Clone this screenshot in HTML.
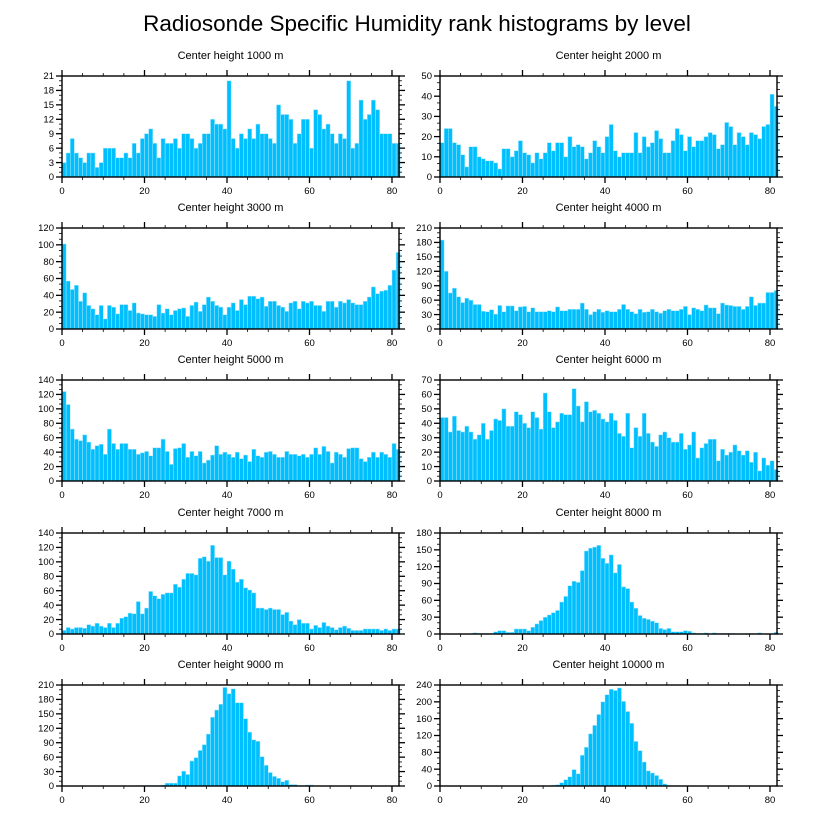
<!DOCTYPE html>
<html><head><meta charset="utf-8">
<style>
html,body{margin:0;padding:0;background:#fff;}
svg{display:block;font-family:"Liberation Sans",Arial,sans-serif;}
</style></head>
<body>
<svg id="chart" width="816" height="824" viewBox="0 0 816 824" xmlns="http://www.w3.org/2000/svg">
<text x="417" y="31" font-size="22.5" text-anchor="middle" fill="#000">Radiosonde Specific Humidity rank histograms by level</text>
</svg>
<script>
const panelTitles = ["Center height 1000 m","Center height 2000 m","Center height 3000 m","Center height 4000 m","Center height 5000 m","Center height 6000 m","Center height 7000 m","Center height 8000 m","Center height 9000 m","Center height 10000 m"];
const yMaxes = [21,50,120,210,140,70,140,180,210,240];
const ySteps = [3,10,20,30,20,10,20,30,30,40];
const xTickLabels = [0,20,40,60,80];
const h1000 = [3,5,8,5,4,3,5,5,2,3,6,6,6,4,4,5,4,7,5,8,9,10,7,4,8,7,7,8,6,9,9,8,6,7,9,9,12,11,11,10,20,8,6,9,8,10,8,11,9,9,8,7,15,13,13,12,7,9,12,12,6,14,13,10,11,9,7,9,8,20,6,7,16,12,13,16,14,9,9,9,7,7];
const h2000 = [17,24,24,17,16,11,5,15,15,10,9,8,8,7,4,14,14,10,13,18,12,11,7,12,9,12,17,13,17,17,10,20,15,16,15,9,12,18,15,12,20,26,13,10,12,12,12,22,12,20,15,17,23,19,12,12,18,24,21,13,20,15,18,18,20,22,21,14,16,27,25,16,22,20,16,22,21,19,25,26,41,35];
const h3000 = [101,57,47,52,33,43,28,24,17,28,12,28,26,18,29,29,22,31,19,18,17,17,15,29,19,24,17,22,24,25,15,28,32,21,29,38,33,28,26,17,26,31,22,35,29,39,39,36,38,27,33,33,28,26,21,31,33,24,33,31,33,28,28,21,33,33,26,33,31,35,31,29,29,33,38,50,42,45,46,52,70,91];
const h4000 = [185,120,75,85,67,55,64,60,51,51,37,36,40,31,49,36,48,48,38,46,47,36,44,36,36,36,38,36,46,38,38,41,41,41,54,41,30,36,41,35,38,36,36,41,51,41,36,32,41,35,36,41,36,33,38,41,38,38,41,47,30,44,41,38,50,44,44,32,54,50,49,47,47,41,47,67,49,54,54,76,76,80];
const h5000 = [124,106,72,58,56,64,54,44,49,51,37,72,52,44,52,52,44,44,37,39,41,35,46,46,58,41,23,45,46,52,33,41,35,41,25,29,36,49,37,40,37,33,40,31,36,27,44,35,33,40,41,37,33,33,41,37,37,35,37,33,37,46,37,48,41,25,40,37,33,45,46,46,31,27,33,40,33,40,37,33,52,44];
const h6000 = [44,44,34,45,35,34,38,34,29,32,40,29,35,43,42,50,38,38,48,46,40,37,48,44,36,61,48,37,41,47,46,46,64,52,41,55,48,49,47,43,41,47,42,33,31,47,23,37,31,47,33,27,24,32,34,30,27,27,33,22,25,34,16,23,26,29,29,14,22,18,20,25,21,18,21,13,20,7,16,11,14,8];
const h7000 = [5,9,7,9,9,8,13,11,15,11,9,15,9,15,22,24,29,28,45,28,36,59,53,49,55,57,57,69,65,76,84,84,82,105,107,101,123,106,106,82,101,90,72,76,64,61,57,36,36,34,36,34,34,27,30,18,13,20,15,15,7,12,9,16,11,9,6,9,11,8,5,5,5,7,7,7,7,5,7,5,7,7];
const h8000 = [0,0,0,0,0,0,0,0,2,1,1,1,1,4,6,6,3,3,9,9,9,6,12,18,24,30,34,38,42,57,67,86,94,92,113,148,153,155,158,135,126,141,109,124,84,81,57,46,33,28,26,23,20,10,8,10,4,4,4,6,5,2,1,1,2,0,2,1,1,1,1,1,0,0,1,1,0,2,0,0,0,3];
const h9000 = [0,0,0,0,0,0,0,0,0,0,0,0,0,0,0,0,0,0,1,1,1,1,1,1,2,6,6,6,21,31,24,52,59,74,86,108,143,158,170,205,192,202,173,173,140,112,96,93,61,43,28,20,16,9,12,3,3,1,1,2,2,0,0,0,0,1,0,0,0,0,1,0,0,0,0,0,0,0,0,0,0,0];
const h10000 = [0,0,0,0,0,0,0,0,0,0,0,0,0,0,0,0,0,0,0,0,0,0,0,1,0,0,0,2,3,8,15,22,39,29,73,92,124,144,170,200,217,230,227,233,201,177,149,106,84,57,36,31,25,16,5,2,1,1,0,0,0,0,0,0,0,0,0,0,0,0,0,0,0,0,0,0,0,0,0,0,0,0];
const allSeries = [h1000,h2000,h3000,h4000,h5000,h6000,h7000,h8000,h9000,h10000];

const svg = document.getElementById('chart');
const NS = 'http://www.w3.org/2000/svg';
function mk(tag, attrs, parent){
  const e = document.createElementNS(NS, tag);
  for (const k in attrs) e.setAttribute(k, attrs[k]);
  parent.appendChild(e);
  return e;
}
const colLeft = [62, 440];
const colWidth = 337;
const rowTop = [76, 228, 380, 533, 685];
const plotH = 101;
const xMax = 81.7;

for (let p = 0; p < 10; p++) {
  const col = p % 2, row = Math.floor(p / 2);
  const L = colLeft[col], T = rowTop[row], B = T + plotH, R = L + colWidth;
  const xs = v => L + v / xMax * colWidth;
  const ys = v => B - v / yMaxes[p] * plotH;
  const g = mk('g', {}, svg);
  
  

  const t = mk('text', {x: (L + R) / 2, y: T - 17, 'font-size': 11, 'text-anchor': 'middle', fill: '#000'}, g);
  
  
  t.textContent = panelTitles[p];

  const data = allSeries[p];
  for (let i = 0; i < data.length; i++) {
    const v = data[i];
    if (v <= 0) continue;
    const r = mk('rect', {x: xs(i), y: ys(v), width: xs(i + 1) - xs(i), height: B - ys(v), fill: '#00bfff', stroke: '#a8e8ff', 'stroke-width': 0.5}, g);
    
    
  }

  const frame = mk('rect', {x: L, y: T, width: colWidth, height: plotH, fill: 'none', stroke: '#000', 'stroke-width': 1.4}, g);
  
  

  for (let v = 0; v <= 80; v += 5) {
    const major = v % 20 === 0;
    const len = major ? 6 : 3;
    const x = xs(v);
    mk('line', {x1: x, x2: x, y1: B, y2: B + len, stroke: '#000', 'stroke-width': major ? 1.3 : 0.8}, g);
    mk('line', {x1: x, x2: x, y1: T, y2: T - len, stroke: '#000', 'stroke-width': major ? 1.3 : 0.8}, g);
  }
  for (let k = 0; k < xTickLabels.length; k++) {
    const tl = mk('text', {x: xs(xTickLabels[k]), y: B + 17, 'font-size': 9.5, 'text-anchor': 'middle', fill: '#000'}, g);
    
    
    tl.textContent = xTickLabels[k];
  }
  const step = ySteps[p], minor = step / 3;
  for (let v = 0; v <= yMaxes[p] + 1e-6; v += minor) {
    const isMajor = Math.abs(v / step - Math.round(v / step)) < 1e-6;
    const len = isMajor ? 6 : 3;
    const y = ys(v);
    mk('line', {x1: L, x2: L - len, y1: y, y2: y, stroke: '#000', 'stroke-width': isMajor ? 1.3 : 0.8}, g);
    mk('line', {x1: R, x2: R + len, y1: y, y2: y, stroke: '#000', 'stroke-width': isMajor ? 1.3 : 0.8}, g);
  }
  for (let v = 0; v <= yMaxes[p]; v += step) {
    const yl = mk('text', {x: L - 8, y: ys(v) + 3.2, 'font-size': 9.5, 'text-anchor': 'end', fill: '#000'}, g);
    
    
    yl.textContent = v;
  }
}
</script>
</body></html>
